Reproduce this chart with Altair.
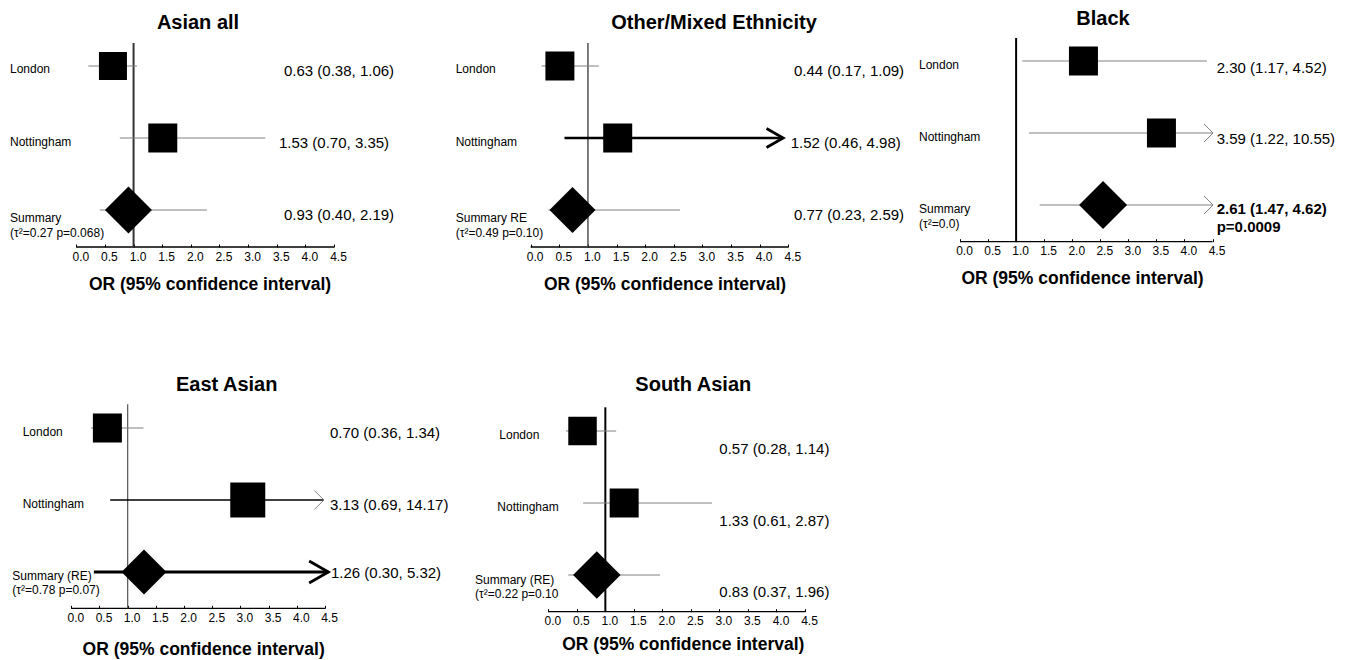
import altair as alt
import pandas as pd

FONT = "Liberation Sans"
GRAY = "#808080"
ROW_PX = 72.0

# ---------------- data ----------------
titles = ["Asian all", "Other/Mixed Ethnicity", "Black", "East Asian", "South Asian"]
site_names = ["London", "Nottingham"]
summary_names = ["Summary", "Summary RE", "Summary", "Summary (RE)", "Summary (RE)"]
summary_stats = ["(τ²=0.27 p=0.068)", "(τ²=0.49 p=0.10)", "(τ²=0.0)",
                 "(τ²=0.78 p=0.07)", "(τ²=0.22 p=0.10"]
rows = [1, 2, 3]  # London, Nottingham, Summary

# marker centres as drawn
est_asian = [0.64, 1.51, 0.91]
est_other = [0.51, 1.52, 0.73]
est_black = [2.20, 3.59, 2.55]
est_east = [0.64, 3.13, 1.29]
est_south = [0.60, 1.33, 0.85]

# interval lines as drawn
lo_asian = [0.21, 0.76, 0.41]
hi_asian = [1.06, 3.30, 2.28]
lo_other = [0.19, 0.59, 0.31]
hi_other = [1.19, 4.41, 2.61]
lo_black = [1.11, 1.23, 1.42]
hi_black = [4.40, 4.51, 4.51]
lo_east = [0.35, 0.69, 0.40]
hi_east = [1.28, 4.48, 4.56]
lo_south = [0.31, 0.61, 0.35]
hi_south = [1.19, 2.87, 1.96]

txt_asian = ["0.63 (0.38, 1.06)", "1.53 (0.70, 3.35)", "0.93 (0.40, 2.19)"]
txt_other = ["0.44 (0.17, 1.09)", "1.52 (0.46, 4.98)", "0.77 (0.23, 2.59)"]
txt_black = ["2.30 (1.17, 4.52)", "3.59 (1.22, 10.55)", "2.61 (1.47, 4.62)"]
txt_east = ["0.70 (0.36, 1.34)", "3.13 (0.69, 14.17)", "1.26 (0.30, 5.32)"]
txt_south = ["0.57 (0.28, 1.14)", "1.33 (0.61, 2.87)", "0.83 (0.37, 1.96)"]
black_p = "p=0.0009"

tick_values = [0.0, 0.5, 1.0, 1.5, 2.0, 2.5, 3.0, 3.5, 4.0, 4.5]
axis_title = "OR (95% confidence interval)"
ref_value = 1.0

# ---------------- styles ----------------
styles = {
    "asian": dict(ci_color=[GRAY, GRAY, GRAY], ci_width=[1, 1, 1], arrow=["", "", ""],
                  arrow_size=[0, 0, 0], marker=[28, 29, 47], ref_color="#333333", ref_width=2.0,
                  bold_rows=[]),
    "other": dict(ci_color=[GRAY, "black", GRAY], ci_width=[1, 2.7, 1], arrow=["", "thick", ""],
                  arrow_size=[0, 19, 0], marker=[29, 29, 46], ref_color="#444444", ref_width=1.4,
                  bold_rows=[]),
    "black": dict(ci_color=[GRAY, GRAY, GRAY], ci_width=[1, 1, 1], arrow=["", "thin", "thin"],
                  arrow_size=[0, 18, 18], marker=[29, 29, 48], ref_color="black", ref_width=2.0,
                  bold_rows=[2]),
    "east": dict(ci_color=[GRAY, "black", "black"], ci_width=[1, 1.7, 3], arrow=["", "thin", "thick"],
                 arrow_size=[0, 19, 22], marker=[29, 35, 45], ref_color="#555555", ref_width=1.2,
                 bold_rows=[]),
    "south": dict(ci_color=[GRAY, GRAY, GRAY], ci_width=[1, 1, 1], arrow=["", "", ""],
                  arrow_size=[0, 0, 0], marker=[28.5, 29, 47.5], ref_color="black", ref_width=2.0,
                  bold_rows=[]),
}

# ---------------- layout (page pixels) ----------------
layouts = {
    "asian": dict(VL=8, VR=420, VT=8, VB=360, X0=76.3, X45=334, R1=66, AY=247,
                  title=(198, 23), xtitle=(210, 285), ref_top=43,
                  lab_x=[10, 10, 10], lab_dy=[3, 4, 8], lab2_dy=23,
                  val_x=[284, 279, 284], val_dy=[5, 5, 5], extra_dy=0),
    "other": dict(VL=420, VR=912, VT=8, VB=360, X0=530.7, X45=788.3, R1=66, AY=247,
                  title=(714, 23), xtitle=(665, 285), ref_top=43,
                  lab_x=[455.7, 455.7, 455.7], lab_dy=[3, 4, 8], lab2_dy=23,
                  val_x=[794, 790.7, 794], val_dy=[5, 5, 5], extra_dy=0),
    "black": dict(VL=912, VR=1340, VT=8, VB=360, X0=960, X45=1212.5, R1=61, AY=241.7,
                  title=(1103, 19), xtitle=(1082.5, 279), ref_top=38,
                  lab_x=[919, 919, 919], lab_dy=[4, 4, 4], lab2_dy=19,
                  val_x=[1216.7, 1216.7, 1216.7], val_dy=[7, 6, 4], extra_dy=22),
    "east": dict(VL=8, VR=460, VT=360, VB=660, X0=71.3, X45=325, R1=428, AY=608.3,
                 title=(226.7, 385), xtitle=(203.7, 650), ref_top=404.3,
                 lab_x=[22.7, 22.7, 12.3], lab_dy=[4, 4, 4], lab2_dy=18,
                 val_x=[330, 330, 331], val_dy=[5, 5, 1], extra_dy=0),
    "south": dict(VL=460, VR=850, VT=360, VB=660, X0=548.3, X45=805, R1=431, AY=611.7,
                  title=(693.3, 385), xtitle=(683.3, 645), ref_top=407.3,
                  lab_x=[499.3, 497.3, 475], lab_dy=[3.7, 3.7, 5], lab2_dy=19,
                  val_x=[719.3, 719.3, 719.3], val_dy=[18.3, 17.7, 16.7], extra_dy=0),
}

panels_data = {
    "asian": dict(title=titles[0], est=est_asian, lo=lo_asian, hi=hi_asian, txt=txt_asian,
                  summ=summary_names[0], stat=summary_stats[0], extra=""),
    "other": dict(title=titles[1], est=est_other, lo=lo_other, hi=hi_other, txt=txt_other,
                  summ=summary_names[1], stat=summary_stats[1], extra=""),
    "black": dict(title=titles[2], est=est_black, lo=lo_black, hi=hi_black, txt=txt_black,
                  summ=summary_names[2], stat=summary_stats[2], extra=black_p),
    "east": dict(title=titles[3], est=est_east, lo=lo_east, hi=hi_east, txt=txt_east,
                 summ=summary_names[3], stat=summary_stats[3], extra=""),
    "south": dict(title=titles[4], est=est_south, lo=lo_south, hi=hi_south, txt=txt_south,
                  summ=summary_names[4], stat=summary_stats[4], extra=""),
}


def make_panel(key):
    d, s, L = panels_data[key], styles[key], layouts[key]
    k = (L["X45"] - L["X0"]) / 4.5

    def tx(px):
        return (px - L["X0"]) / k

    def ty(py):
        return 1 + (py - L["R1"]) / ROW_PX

    W = L["VR"] - L["VL"]
    H = L["VB"] - L["VT"]
    xs = alt.Scale(domain=[tx(L["VL"]), tx(L["VR"])], nice=False, zero=False)
    ys = alt.Scale(domain=[ty(L["VT"]), ty(L["VB"])], nice=False, zero=False, reverse=True)
    xaxis = alt.Axis(values=tick_values, format=".1f", domain=False, grid=False,
                     ticks=True, tickSize=3, tickColor="black", tickWidth=1,
                     labelFont=FONT, labelFontSize=12, labelColor="black",
                     labelPadding=4, labelOffset=4, labelFlush=False,
                     labelOverlap=False, offset=L["AY"] - 3 - L["VB"])

    def X(f):
        return alt.X(f, type="quantitative", scale=xs, axis=xaxis, title=None)

    def Y(f):
        return alt.Y(f, type="quantitative", scale=ys, axis=None, title=None)

    df = pd.DataFrame({
        "row": rows, "est": d["est"], "lo": d["lo"], "hi": d["hi"],
        "ci_color": s["ci_color"], "ci_w": s["ci_width"], "arrow": s["arrow"],
        "arrow_size": [a * a for a in s["arrow_size"]],
        "msize": [m * m for m in s["marker"]],
        "kind": ["study", "study", "summary"],
    })

    layers = []

    # axis line (ticks/labels come from the x axis)
    axis_df = pd.DataFrame({"a0": [tick_values[0]], "a1": [tick_values[-1]], "ay": [ty(L["AY"])]})
    layers.append(alt.Chart(axis_df).mark_rule(color="black", strokeWidth=1.3).encode(
        x=X("a0"), x2=alt.X2("a1"), y=Y("ay")))

    # reference line at OR = 1
    ref_df = pd.DataFrame({"rx": [ref_value], "r0": [ty(L["ref_top"])], "r1": [ty(L["AY"])]})
    layers.append(alt.Chart(ref_df).mark_rule(color=s["ref_color"], strokeWidth=s["ref_width"]).encode(
        x=X("rx"), y=Y("r0"), y2=alt.Y2("r1")))

    # interval lines
    layers.append(alt.Chart(df).mark_rule().encode(
        x=X("lo"), x2=alt.X2("hi"), y=Y("row"),
        color=alt.Color("ci_color:N", scale=None),
        strokeWidth=alt.StrokeWidth("ci_w:Q", scale=None)))

    thin = df[df["arrow"] == "thin"]
    if len(thin):
        layers.append(alt.Chart(thin).mark_point(
            shape="M-1,-1L0,0L-1,1", filled=False, color=GRAY, strokeWidth=1, opacity=1).encode(
            x=X("hi"), y=Y("row"), size=alt.Size("arrow_size:Q", scale=None)))
    thick = df[df["arrow"] == "thick"]
    if len(thick):
        layers.append(alt.Chart(thick).mark_point(
            shape="M-1.75,-1L0,0L-1.75,1", filled=False, color="black", strokeWidth=2.8,
            opacity=1).encode(
            x=X("hi"), y=Y("row"), size=alt.Size("arrow_size:Q", scale=None)))

    # study squares and summary diamond
    layers.append(alt.Chart(df[df["kind"] == "study"]).mark_square(
        color="black", filled=True, opacity=1).encode(
        x=X("est"), y=Y("row"), size=alt.Size("msize:Q", scale=None)))
    layers.append(alt.Chart(df[df["kind"] == "summary"]).mark_point(
        shape="diamond", color="black", filled=True, opacity=1).encode(
        x=X("est"), y=Y("row"), size=alt.Size("msize:Q", scale=None)))

    # row labels
    names = site_names + [d["summ"]]
    lab = [{"t": names[i], "lx": tx(L["lab_x"][i]),
            "ly": ty(L["R1"] + ROW_PX * i + L["lab_dy"][i])} for i in range(3)]
    lab.append({"t": d["stat"], "lx": tx(L["lab_x"][2]),
                "ly": ty(L["R1"] + ROW_PX * 2 + L["lab2_dy"])})
    layers.append(alt.Chart(pd.DataFrame(lab)).mark_text(
        align="left", baseline="middle", font=FONT, fontSize=12, color="black").encode(
        x=X("lx"), y=Y("ly"), text="t:N"))

    # value texts
    vals = [{"t": d["txt"][i], "vx": tx(L["val_x"][i]),
             "vy": ty(L["R1"] + ROW_PX * i + L["val_dy"][i]),
             "b": i in s["bold_rows"]} for i in range(3)]
    if d["extra"]:
        vals.append({"t": d["extra"], "vx": tx(L["val_x"][2]),
                     "vy": ty(L["R1"] + ROW_PX * 2 + L["extra_dy"]), "b": True})
    vdf = pd.DataFrame(vals)
    normal = vdf[~vdf["b"]][["t", "vx", "vy"]]
    bold = vdf[vdf["b"]][["t", "vx", "vy"]]
    layers.append(alt.Chart(normal).mark_text(
        align="left", baseline="middle", font=FONT, fontSize=15, color="black").encode(
        x=X("vx"), y=Y("vy"), text="t:N"))
    if len(bold):
        layers.append(alt.Chart(bold).mark_text(
            align="left", baseline="middle", font=FONT, fontSize=15, fontWeight="bold",
            color="black").encode(x=X("vx"), y=Y("vy"), text="t:N"))

    # panel title and axis title
    tdf = pd.DataFrame({"t": [d["title"]], "x": [tx(L["title"][0])], "y": [ty(L["title"][1])]})
    layers.append(alt.Chart(tdf).mark_text(
        align="center", baseline="middle", font=FONT, fontSize=20, fontWeight="bold",
        color="black").encode(x=X("x"), y=Y("y"), text="t:N"))
    adf = pd.DataFrame({"t": [axis_title], "x": [tx(L["xtitle"][0])], "y": [ty(L["xtitle"][1])]})
    layers.append(alt.Chart(adf).mark_text(
        align="center", baseline="middle", font=FONT, fontSize=17.5, fontWeight="bold",
        color="black").encode(x=X("x"), y=Y("y"), text="t:N"))

    return alt.layer(*layers).properties(width=W, height=H)


row1 = alt.hconcat(make_panel("asian"), make_panel("other"), make_panel("black"), spacing=0)
row2 = alt.hconcat(make_panel("east"), make_panel("south"), spacing=0)
chart = (alt.vconcat(row1, row2, spacing=0)
         .properties(padding=0, background="white")
         .configure_view(strokeWidth=0))

chart.save("out.html", embed_options={"renderer": "svg", "actions": False})
